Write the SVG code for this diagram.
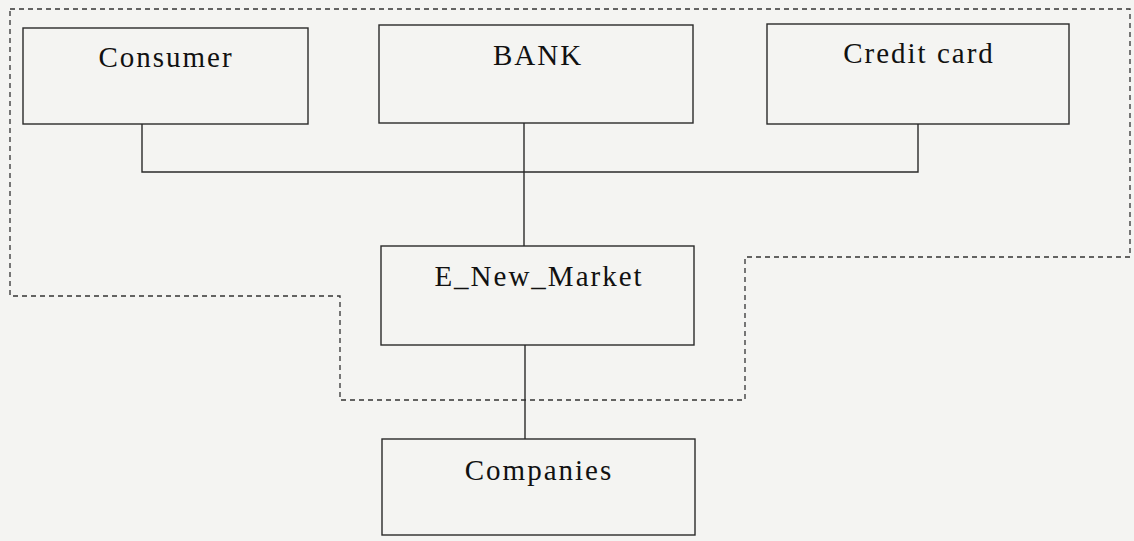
<svg xmlns="http://www.w3.org/2000/svg" width="1134" height="541" viewBox="0 0 1134 541">
<style>
.box{fill:none;stroke:#2a2a2a;stroke-width:1.4}
.lbl{font-family:"Liberation Serif","Times New Roman",serif;font-size:29px;letter-spacing:2px;fill:#111;text-anchor:middle}
.conn{fill:none;stroke:#2a2a2a;stroke-width:1.4}
.bound{fill:none;stroke:#333;stroke-width:1.3;stroke-dasharray:5 4}
</style>
<rect width="1134" height="541" fill="#f4f4f2"/>
<path class="bound" d="M10,9 H1130 V257 H745 V400 H340 V296 H10 Z"/>
<g id="connectors">
<path class="conn" d="M142,124 V172 H918 V124"/>
<path class="conn" d="M524,123 V246"/>
<path class="conn" d="M525,345 V439"/>
</g>
<g id="consumer">
<rect class="box" x="23" y="28" width="285" height="96"/>
<text class="lbl" x="166" y="67">Consumer</text>
</g>
<g id="bank">
<rect class="box" x="379" y="25" width="314" height="98"/>
<text class="lbl" x="538" y="65">BANK</text>
</g>
<g id="credit-card">
<rect class="box" x="767" y="24" width="302" height="100"/>
<text class="lbl" x="919" y="63">Credit card</text>
</g>
<g id="e-new-market">
<rect class="box" x="381" y="246" width="313" height="99"/>
<text class="lbl" x="539" y="286">E_New_Market</text>
</g>
<g id="companies">
<rect class="box" x="382" y="439" width="313" height="96"/>
<text class="lbl" x="539" y="480">Companies</text>
</g>
</svg>
